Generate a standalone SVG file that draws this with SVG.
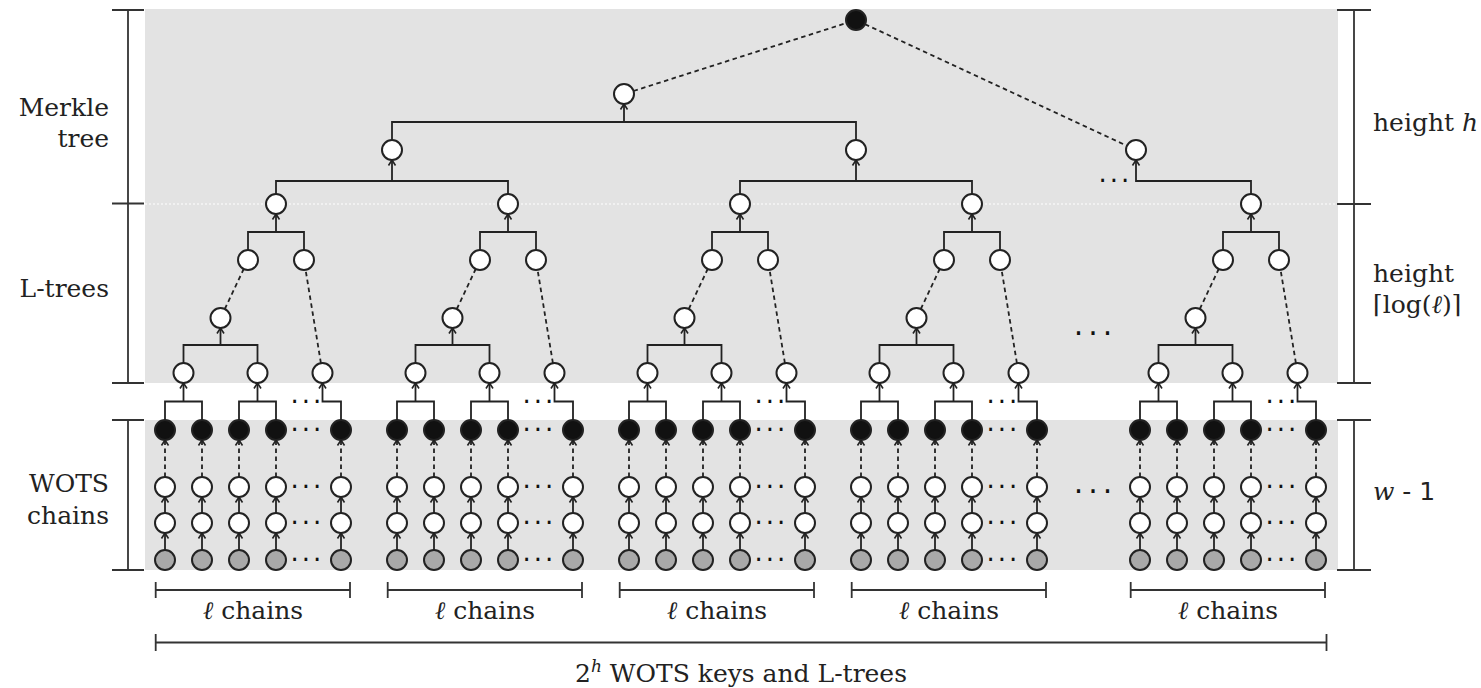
<svg xmlns="http://www.w3.org/2000/svg" width="1481" height="688" viewBox="0 0 1481 688">
<style>
.bg{fill:#e3e3e3}
.n{stroke:#222;stroke-width:2}
.w{fill:#fff}.k{fill:#111}.g{fill:#a9a9a9}
.ln{fill:none;stroke:#222;stroke-width:1.8}
.a{fill:none;stroke:#222;stroke-width:1.8;marker-end:url(#ah)}
.d{fill:none;stroke:#222;stroke-width:1.8;stroke-dasharray:4.5 3.5;marker-end:url(#ah)}
.dl{fill:none;stroke:#222;stroke-width:1.8;stroke-dasharray:4.5 3.5}
.br{fill:none;stroke:#333;stroke-width:1.8}
.t{font-family:'DejaVu Serif','Liberation Serif',serif;font-size:25px;fill:#222}
.dots{font-family:'DejaVu Sans',sans-serif;font-size:26px;fill:#111;text-anchor:middle;letter-spacing:3px}
.bdots{font-family:'DejaVu Sans',sans-serif;font-size:30px;fill:#111;text-anchor:middle;letter-spacing:5px}
</style>
<defs>
<marker id="ah" viewBox="-8 -5 10 10" markerWidth="10" markerHeight="10" refX="0" refY="0" orient="auto" markerUnits="userSpaceOnUse">
<path d="M-5.5,-3.5L0,0L-5.5,3.5" fill="none" stroke="#222" stroke-width="1.6"/>
</marker>
</defs>
<rect class="bg" x="145" y="9" width="1193" height="374"/>
<rect class="bg" x="145" y="420" width="1193" height="150"/>
<path d="M145,204H1338" stroke="#fff" stroke-width="1" stroke-dasharray="2 2" fill="none"/>

<g id="connectors">
<g id="merkle-connectors">
<path class="ln" d="M276,194V181H508V194"/><path class="a" d="M392,181V160"/>
<path class="ln" d="M740,194V181H972V194"/><path class="a" d="M856,181V160"/>
<path class="a" d="M1251,194V181H1136V160"/>
<path class="ln" d="M392,140V122H856V140"/><path class="a" d="M624,122V104"/>
<path class="dl" d="M633.5,91L846.5,23"/>
<path class="dl" d="M865,24.2L1127,145.8"/>
</g>
<g id="c-b1" transform="translate(165,0)">
<path class="a" d="M0,550V533"/><path class="a" d="M37,550V533"/><path class="a" d="M74,550V533"/><path class="a" d="M111,550V533"/><path class="a" d="M176,550V533"/>
<path class="a" d="M0,513V497"/><path class="a" d="M37,513V497"/><path class="a" d="M74,513V497"/><path class="a" d="M111,513V497"/><path class="a" d="M176,513V497"/>
<path class="d" d="M0,477V440"/><path class="d" d="M37,477V440"/><path class="d" d="M74,477V440"/><path class="d" d="M111,477V440"/><path class="d" d="M176,477V440"/>
<path class="ln" d="M0,420V401.5H37V420"/><path class="a" d="M18.5,401.5V383"/>
<path class="ln" d="M74,420V401.5H111V420"/><path class="a" d="M92.5,401.5V383"/>
<path class="a" d="M176,420V401.5H157.5V383"/>
<path class="ln" d="M18.5,363V345H92.5V363"/><path class="a" d="M55.5,345V328"/>
<path class="dl" d="M59.8,309L78.7,269"/><path class="dl" d="M155.9,363.1L140.6,269.9"/>
<path class="ln" d="M83,250V232H139V250"/><path class="a" d="M111,232V214"/>
</g>
<g id="c-b2" transform="translate(397,0)">
<path class="a" d="M0,550V533"/><path class="a" d="M37,550V533"/><path class="a" d="M74,550V533"/><path class="a" d="M111,550V533"/><path class="a" d="M176,550V533"/>
<path class="a" d="M0,513V497"/><path class="a" d="M37,513V497"/><path class="a" d="M74,513V497"/><path class="a" d="M111,513V497"/><path class="a" d="M176,513V497"/>
<path class="d" d="M0,477V440"/><path class="d" d="M37,477V440"/><path class="d" d="M74,477V440"/><path class="d" d="M111,477V440"/><path class="d" d="M176,477V440"/>
<path class="ln" d="M0,420V401.5H37V420"/><path class="a" d="M18.5,401.5V383"/>
<path class="ln" d="M74,420V401.5H111V420"/><path class="a" d="M92.5,401.5V383"/>
<path class="a" d="M176,420V401.5H157.5V383"/>
<path class="ln" d="M18.5,363V345H92.5V363"/><path class="a" d="M55.5,345V328"/>
<path class="dl" d="M59.8,309L78.7,269"/><path class="dl" d="M155.9,363.1L140.6,269.9"/>
<path class="ln" d="M83,250V232H139V250"/><path class="a" d="M111,232V214"/>
</g>
<g id="c-b3" transform="translate(629,0)">
<path class="a" d="M0,550V533"/><path class="a" d="M37,550V533"/><path class="a" d="M74,550V533"/><path class="a" d="M111,550V533"/><path class="a" d="M176,550V533"/>
<path class="a" d="M0,513V497"/><path class="a" d="M37,513V497"/><path class="a" d="M74,513V497"/><path class="a" d="M111,513V497"/><path class="a" d="M176,513V497"/>
<path class="d" d="M0,477V440"/><path class="d" d="M37,477V440"/><path class="d" d="M74,477V440"/><path class="d" d="M111,477V440"/><path class="d" d="M176,477V440"/>
<path class="ln" d="M0,420V401.5H37V420"/><path class="a" d="M18.5,401.5V383"/>
<path class="ln" d="M74,420V401.5H111V420"/><path class="a" d="M92.5,401.5V383"/>
<path class="a" d="M176,420V401.5H157.5V383"/>
<path class="ln" d="M18.5,363V345H92.5V363"/><path class="a" d="M55.5,345V328"/>
<path class="dl" d="M59.8,309L78.7,269"/><path class="dl" d="M155.9,363.1L140.6,269.9"/>
<path class="ln" d="M83,250V232H139V250"/><path class="a" d="M111,232V214"/>
</g>
<g id="c-b4" transform="translate(861,0)">
<path class="a" d="M0,550V533"/><path class="a" d="M37,550V533"/><path class="a" d="M74,550V533"/><path class="a" d="M111,550V533"/><path class="a" d="M176,550V533"/>
<path class="a" d="M0,513V497"/><path class="a" d="M37,513V497"/><path class="a" d="M74,513V497"/><path class="a" d="M111,513V497"/><path class="a" d="M176,513V497"/>
<path class="d" d="M0,477V440"/><path class="d" d="M37,477V440"/><path class="d" d="M74,477V440"/><path class="d" d="M111,477V440"/><path class="d" d="M176,477V440"/>
<path class="ln" d="M0,420V401.5H37V420"/><path class="a" d="M18.5,401.5V383"/>
<path class="ln" d="M74,420V401.5H111V420"/><path class="a" d="M92.5,401.5V383"/>
<path class="a" d="M176,420V401.5H157.5V383"/>
<path class="ln" d="M18.5,363V345H92.5V363"/><path class="a" d="M55.5,345V328"/>
<path class="dl" d="M59.8,309L78.7,269"/><path class="dl" d="M155.9,363.1L140.6,269.9"/>
<path class="ln" d="M83,250V232H139V250"/><path class="a" d="M111,232V214"/>
</g>
<g id="c-b5" transform="translate(1140,0)">
<path class="a" d="M0,550V533"/><path class="a" d="M37,550V533"/><path class="a" d="M74,550V533"/><path class="a" d="M111,550V533"/><path class="a" d="M176,550V533"/>
<path class="a" d="M0,513V497"/><path class="a" d="M37,513V497"/><path class="a" d="M74,513V497"/><path class="a" d="M111,513V497"/><path class="a" d="M176,513V497"/>
<path class="d" d="M0,477V440"/><path class="d" d="M37,477V440"/><path class="d" d="M74,477V440"/><path class="d" d="M111,477V440"/><path class="d" d="M176,477V440"/>
<path class="ln" d="M0,420V401.5H37V420"/><path class="a" d="M18.5,401.5V383"/>
<path class="ln" d="M74,420V401.5H111V420"/><path class="a" d="M92.5,401.5V383"/>
<path class="a" d="M176,420V401.5H157.5V383"/>
<path class="ln" d="M18.5,363V345H92.5V363"/><path class="a" d="M55.5,345V328"/>
<path class="dl" d="M59.8,309L78.7,269"/><path class="dl" d="M155.9,363.1L140.6,269.9"/>
<path class="ln" d="M83,250V232H139V250"/><path class="a" d="M111,232V214"/>
</g>
</g>

<g id="merkle-nodes">
<g id="m-root"><circle class="n k" cx="856" cy="20" r="10"/></g>
<g id="m2-a"><circle class="n w" cx="624" cy="94" r="10"/></g>
<g id="m1-a"><circle class="n w" cx="392" cy="150" r="10"/></g>
<g id="m1-b"><circle class="n w" cx="856" cy="150" r="10"/></g>
<g id="m1-c"><circle class="n w" cx="1136" cy="150" r="10"/></g>
</g>

<g id="block1" transform="translate(165,0)">
<g id="b1-r"><circle class="n w" cx="111" cy="204" r="10"/></g>
<g id="b1-l3a"><circle class="n w" cx="83" cy="260" r="10"/></g>
<g id="b1-l3b"><circle class="n w" cx="139" cy="260" r="10"/></g>
<g id="b1-l2"><circle class="n w" cx="55.5" cy="318" r="10"/></g>
<g id="b1-l1a"><circle class="n w" cx="18.5" cy="373" r="10"/></g>
<g id="b1-l1b"><circle class="n w" cx="92.5" cy="373" r="10"/></g>
<g id="b1-l1c"><circle class="n w" cx="157.5" cy="373" r="10"/></g>
<g id="b1-k1"><circle class="n k" cx="0" cy="430" r="10"/></g>
<g id="b1-k2"><circle class="n k" cx="37" cy="430" r="10"/></g>
<g id="b1-k3"><circle class="n k" cx="74" cy="430" r="10"/></g>
<g id="b1-k4"><circle class="n k" cx="111" cy="430" r="10"/></g>
<g id="b1-k5"><circle class="n k" cx="176" cy="430" r="10"/></g>
<g id="b1-u1"><circle class="n w" cx="0" cy="487" r="10"/></g>
<g id="b1-u2"><circle class="n w" cx="37" cy="487" r="10"/></g>
<g id="b1-u3"><circle class="n w" cx="74" cy="487" r="10"/></g>
<g id="b1-u4"><circle class="n w" cx="111" cy="487" r="10"/></g>
<g id="b1-u5"><circle class="n w" cx="176" cy="487" r="10"/></g>
<g id="b1-v1"><circle class="n w" cx="0" cy="523" r="10"/></g>
<g id="b1-v2"><circle class="n w" cx="37" cy="523" r="10"/></g>
<g id="b1-v3"><circle class="n w" cx="74" cy="523" r="10"/></g>
<g id="b1-v4"><circle class="n w" cx="111" cy="523" r="10"/></g>
<g id="b1-v5"><circle class="n w" cx="176" cy="523" r="10"/></g>
<g id="b1-g1"><circle class="n g" cx="0" cy="560" r="10"/></g>
<g id="b1-g2"><circle class="n g" cx="37" cy="560" r="10"/></g>
<g id="b1-g3"><circle class="n g" cx="74" cy="560" r="10"/></g>
<g id="b1-g4"><circle class="n g" cx="111" cy="560" r="10"/></g>
<g id="b1-g5"><circle class="n g" cx="176" cy="560" r="10"/></g>
</g>
<g id="block2" transform="translate(397,0)">
<g id="b2-r"><circle class="n w" cx="111" cy="204" r="10"/></g>
<g id="b2-l3a"><circle class="n w" cx="83" cy="260" r="10"/></g>
<g id="b2-l3b"><circle class="n w" cx="139" cy="260" r="10"/></g>
<g id="b2-l2"><circle class="n w" cx="55.5" cy="318" r="10"/></g>
<g id="b2-l1a"><circle class="n w" cx="18.5" cy="373" r="10"/></g>
<g id="b2-l1b"><circle class="n w" cx="92.5" cy="373" r="10"/></g>
<g id="b2-l1c"><circle class="n w" cx="157.5" cy="373" r="10"/></g>
<g id="b2-k1"><circle class="n k" cx="0" cy="430" r="10"/></g>
<g id="b2-k2"><circle class="n k" cx="37" cy="430" r="10"/></g>
<g id="b2-k3"><circle class="n k" cx="74" cy="430" r="10"/></g>
<g id="b2-k4"><circle class="n k" cx="111" cy="430" r="10"/></g>
<g id="b2-k5"><circle class="n k" cx="176" cy="430" r="10"/></g>
<g id="b2-u1"><circle class="n w" cx="0" cy="487" r="10"/></g>
<g id="b2-u2"><circle class="n w" cx="37" cy="487" r="10"/></g>
<g id="b2-u3"><circle class="n w" cx="74" cy="487" r="10"/></g>
<g id="b2-u4"><circle class="n w" cx="111" cy="487" r="10"/></g>
<g id="b2-u5"><circle class="n w" cx="176" cy="487" r="10"/></g>
<g id="b2-v1"><circle class="n w" cx="0" cy="523" r="10"/></g>
<g id="b2-v2"><circle class="n w" cx="37" cy="523" r="10"/></g>
<g id="b2-v3"><circle class="n w" cx="74" cy="523" r="10"/></g>
<g id="b2-v4"><circle class="n w" cx="111" cy="523" r="10"/></g>
<g id="b2-v5"><circle class="n w" cx="176" cy="523" r="10"/></g>
<g id="b2-g1"><circle class="n g" cx="0" cy="560" r="10"/></g>
<g id="b2-g2"><circle class="n g" cx="37" cy="560" r="10"/></g>
<g id="b2-g3"><circle class="n g" cx="74" cy="560" r="10"/></g>
<g id="b2-g4"><circle class="n g" cx="111" cy="560" r="10"/></g>
<g id="b2-g5"><circle class="n g" cx="176" cy="560" r="10"/></g>
</g>
<g id="block3" transform="translate(629,0)">
<g id="b3-r"><circle class="n w" cx="111" cy="204" r="10"/></g>
<g id="b3-l3a"><circle class="n w" cx="83" cy="260" r="10"/></g>
<g id="b3-l3b"><circle class="n w" cx="139" cy="260" r="10"/></g>
<g id="b3-l2"><circle class="n w" cx="55.5" cy="318" r="10"/></g>
<g id="b3-l1a"><circle class="n w" cx="18.5" cy="373" r="10"/></g>
<g id="b3-l1b"><circle class="n w" cx="92.5" cy="373" r="10"/></g>
<g id="b3-l1c"><circle class="n w" cx="157.5" cy="373" r="10"/></g>
<g id="b3-k1"><circle class="n k" cx="0" cy="430" r="10"/></g>
<g id="b3-k2"><circle class="n k" cx="37" cy="430" r="10"/></g>
<g id="b3-k3"><circle class="n k" cx="74" cy="430" r="10"/></g>
<g id="b3-k4"><circle class="n k" cx="111" cy="430" r="10"/></g>
<g id="b3-k5"><circle class="n k" cx="176" cy="430" r="10"/></g>
<g id="b3-u1"><circle class="n w" cx="0" cy="487" r="10"/></g>
<g id="b3-u2"><circle class="n w" cx="37" cy="487" r="10"/></g>
<g id="b3-u3"><circle class="n w" cx="74" cy="487" r="10"/></g>
<g id="b3-u4"><circle class="n w" cx="111" cy="487" r="10"/></g>
<g id="b3-u5"><circle class="n w" cx="176" cy="487" r="10"/></g>
<g id="b3-v1"><circle class="n w" cx="0" cy="523" r="10"/></g>
<g id="b3-v2"><circle class="n w" cx="37" cy="523" r="10"/></g>
<g id="b3-v3"><circle class="n w" cx="74" cy="523" r="10"/></g>
<g id="b3-v4"><circle class="n w" cx="111" cy="523" r="10"/></g>
<g id="b3-v5"><circle class="n w" cx="176" cy="523" r="10"/></g>
<g id="b3-g1"><circle class="n g" cx="0" cy="560" r="10"/></g>
<g id="b3-g2"><circle class="n g" cx="37" cy="560" r="10"/></g>
<g id="b3-g3"><circle class="n g" cx="74" cy="560" r="10"/></g>
<g id="b3-g4"><circle class="n g" cx="111" cy="560" r="10"/></g>
<g id="b3-g5"><circle class="n g" cx="176" cy="560" r="10"/></g>
</g>
<g id="block4" transform="translate(861,0)">
<g id="b4-r"><circle class="n w" cx="111" cy="204" r="10"/></g>
<g id="b4-l3a"><circle class="n w" cx="83" cy="260" r="10"/></g>
<g id="b4-l3b"><circle class="n w" cx="139" cy="260" r="10"/></g>
<g id="b4-l2"><circle class="n w" cx="55.5" cy="318" r="10"/></g>
<g id="b4-l1a"><circle class="n w" cx="18.5" cy="373" r="10"/></g>
<g id="b4-l1b"><circle class="n w" cx="92.5" cy="373" r="10"/></g>
<g id="b4-l1c"><circle class="n w" cx="157.5" cy="373" r="10"/></g>
<g id="b4-k1"><circle class="n k" cx="0" cy="430" r="10"/></g>
<g id="b4-k2"><circle class="n k" cx="37" cy="430" r="10"/></g>
<g id="b4-k3"><circle class="n k" cx="74" cy="430" r="10"/></g>
<g id="b4-k4"><circle class="n k" cx="111" cy="430" r="10"/></g>
<g id="b4-k5"><circle class="n k" cx="176" cy="430" r="10"/></g>
<g id="b4-u1"><circle class="n w" cx="0" cy="487" r="10"/></g>
<g id="b4-u2"><circle class="n w" cx="37" cy="487" r="10"/></g>
<g id="b4-u3"><circle class="n w" cx="74" cy="487" r="10"/></g>
<g id="b4-u4"><circle class="n w" cx="111" cy="487" r="10"/></g>
<g id="b4-u5"><circle class="n w" cx="176" cy="487" r="10"/></g>
<g id="b4-v1"><circle class="n w" cx="0" cy="523" r="10"/></g>
<g id="b4-v2"><circle class="n w" cx="37" cy="523" r="10"/></g>
<g id="b4-v3"><circle class="n w" cx="74" cy="523" r="10"/></g>
<g id="b4-v4"><circle class="n w" cx="111" cy="523" r="10"/></g>
<g id="b4-v5"><circle class="n w" cx="176" cy="523" r="10"/></g>
<g id="b4-g1"><circle class="n g" cx="0" cy="560" r="10"/></g>
<g id="b4-g2"><circle class="n g" cx="37" cy="560" r="10"/></g>
<g id="b4-g3"><circle class="n g" cx="74" cy="560" r="10"/></g>
<g id="b4-g4"><circle class="n g" cx="111" cy="560" r="10"/></g>
<g id="b4-g5"><circle class="n g" cx="176" cy="560" r="10"/></g>
</g>
<g id="block5" transform="translate(1140,0)">
<g id="b5-r"><circle class="n w" cx="111" cy="204" r="10"/></g>
<g id="b5-l3a"><circle class="n w" cx="83" cy="260" r="10"/></g>
<g id="b5-l3b"><circle class="n w" cx="139" cy="260" r="10"/></g>
<g id="b5-l2"><circle class="n w" cx="55.5" cy="318" r="10"/></g>
<g id="b5-l1a"><circle class="n w" cx="18.5" cy="373" r="10"/></g>
<g id="b5-l1b"><circle class="n w" cx="92.5" cy="373" r="10"/></g>
<g id="b5-l1c"><circle class="n w" cx="157.5" cy="373" r="10"/></g>
<g id="b5-k1"><circle class="n k" cx="0" cy="430" r="10"/></g>
<g id="b5-k2"><circle class="n k" cx="37" cy="430" r="10"/></g>
<g id="b5-k3"><circle class="n k" cx="74" cy="430" r="10"/></g>
<g id="b5-k4"><circle class="n k" cx="111" cy="430" r="10"/></g>
<g id="b5-k5"><circle class="n k" cx="176" cy="430" r="10"/></g>
<g id="b5-u1"><circle class="n w" cx="0" cy="487" r="10"/></g>
<g id="b5-u2"><circle class="n w" cx="37" cy="487" r="10"/></g>
<g id="b5-u3"><circle class="n w" cx="74" cy="487" r="10"/></g>
<g id="b5-u4"><circle class="n w" cx="111" cy="487" r="10"/></g>
<g id="b5-u5"><circle class="n w" cx="176" cy="487" r="10"/></g>
<g id="b5-v1"><circle class="n w" cx="0" cy="523" r="10"/></g>
<g id="b5-v2"><circle class="n w" cx="37" cy="523" r="10"/></g>
<g id="b5-v3"><circle class="n w" cx="74" cy="523" r="10"/></g>
<g id="b5-v4"><circle class="n w" cx="111" cy="523" r="10"/></g>
<g id="b5-v5"><circle class="n w" cx="176" cy="523" r="10"/></g>
<g id="b5-g1"><circle class="n g" cx="0" cy="560" r="10"/></g>
<g id="b5-g2"><circle class="n g" cx="37" cy="560" r="10"/></g>
<g id="b5-g3"><circle class="n g" cx="74" cy="560" r="10"/></g>
<g id="b5-g4"><circle class="n g" cx="111" cy="560" r="10"/></g>
<g id="b5-g5"><circle class="n g" cx="176" cy="560" r="10"/></g>
</g>

<g id="ellipses" class="dots">
<text x="307.5" y="411">···</text><text x="307.5" y="439">···</text><text x="307.5" y="496">···</text><text x="307.5" y="532">···</text><text x="307.5" y="569">···</text>
<text x="539.5" y="411">···</text><text x="539.5" y="439">···</text><text x="539.5" y="496">···</text><text x="539.5" y="532">···</text><text x="539.5" y="569">···</text>
<text x="771.5" y="411">···</text><text x="771.5" y="439">···</text><text x="771.5" y="496">···</text><text x="771.5" y="532">···</text><text x="771.5" y="569">···</text>
<text x="1003.5" y="411">···</text><text x="1003.5" y="439">···</text><text x="1003.5" y="496">···</text><text x="1003.5" y="532">···</text><text x="1003.5" y="569">···</text>
<text x="1282.5" y="411">···</text><text x="1282.5" y="439">···</text><text x="1282.5" y="496">···</text><text x="1282.5" y="532">···</text><text x="1282.5" y="569">···</text>
<text x="1115.5" y="190">···</text>
<text class="bdots" x="1095.5" y="344">···</text>
<text class="bdots" x="1095.5" y="502">···</text>
</g>

<g id="scales">
<path class="br" d="M112,10H144M128,10V383M112,203.5H144M112,383H144M112,420H144M128,420V570M112,570H144"/>
<path class="br" d="M1337,10H1371M1354,10V383M1337,204H1371M1337,383H1371M1337,420H1371M1354,420V570M1337,570H1371"/>
<path class="br" d="M155.7,582V598M155.7,590H350M350,582V598"/>
<path class="br" d="M387.7,582V598M387.7,590H582M582,582V598"/>
<path class="br" d="M619.7,582V598M619.7,590H814M814,582V598"/>
<path class="br" d="M851.7,582V598M851.7,590H1046M1046,582V598"/>
<path class="br" d="M1130.7,582V598M1130.7,590H1325M1325,582V598"/>
<path class="br" d="M155.7,634V651M155.7,642.5H1326.5M1326.5,634V651"/>
</g>

<g id="labels">
<text class="t" x="109" y="116" text-anchor="end">Merkle</text>
<text class="t" x="109" y="147" text-anchor="end">tree</text>
<text class="t" x="109" y="297" text-anchor="end">L-trees</text>
<text class="t" x="109" y="492" text-anchor="end">WOTS</text>
<text class="t" x="109" y="524" text-anchor="end">chains</text>
<text class="t" x="1373" y="131">height <tspan font-style="italic">h</tspan></text>
<text class="t" x="1373" y="282">height</text>
<text class="t" x="1373" y="313">⌈log(<tspan font-style="italic">ℓ</tspan>)⌉</text>
<text class="t" x="1373" y="500"><tspan font-style="italic">w</tspan><tspan font-family="DejaVu Sans, sans-serif"> - 1</tspan></text>
<text class="t" x="253" y="619" text-anchor="middle"><tspan font-style="italic">ℓ</tspan> chains</text>
<text class="t" x="485" y="619" text-anchor="middle"><tspan font-style="italic">ℓ</tspan> chains</text>
<text class="t" x="717" y="619" text-anchor="middle"><tspan font-style="italic">ℓ</tspan> chains</text>
<text class="t" x="949" y="619" text-anchor="middle"><tspan font-style="italic">ℓ</tspan> chains</text>
<text class="t" x="1228" y="619" text-anchor="middle"><tspan font-style="italic">ℓ</tspan> chains</text>
<text class="t" x="741" y="682" text-anchor="middle">2<tspan font-style="italic" font-size="17" dy="-10">h</tspan><tspan dy="10"> WOTS keys and L-trees</tspan></text>
</g>
</svg>
